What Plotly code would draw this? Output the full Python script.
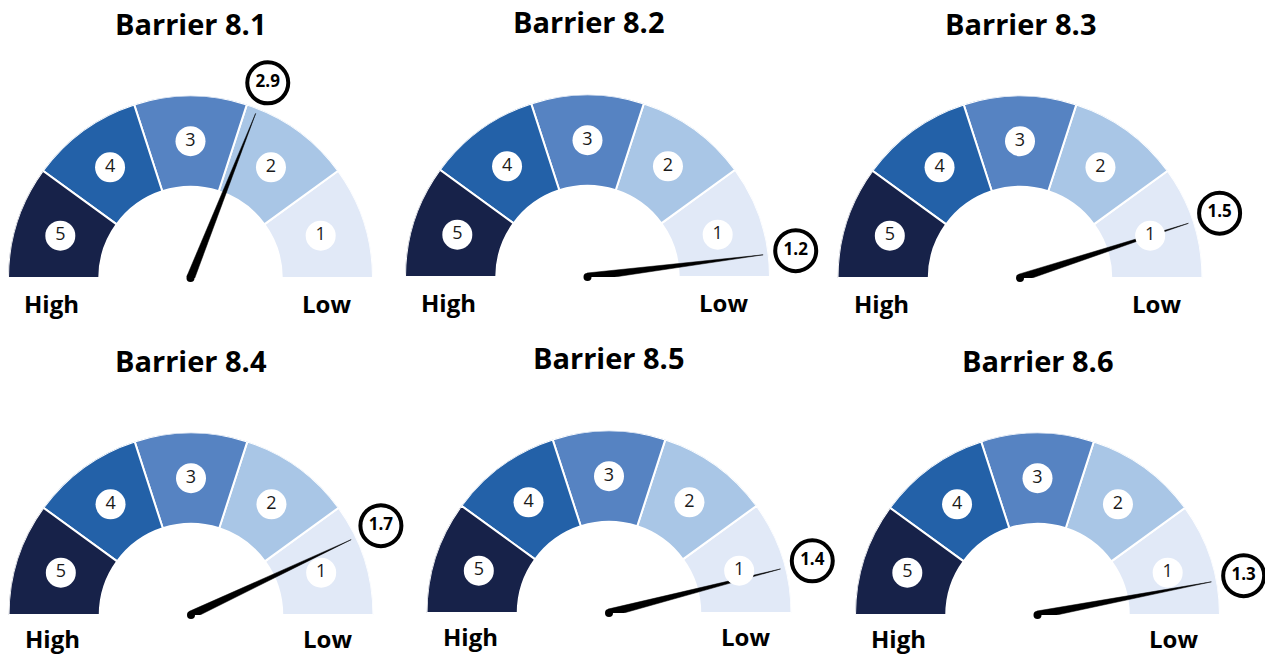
import plotly.graph_objects as go

barriers = ["Barrier 8.1", "Barrier 8.2", "Barrier 8.3", "Barrier 8.4", "Barrier 8.5", "Barrier 8.6"]
scores = [2.9, 1.2, 1.5, 1.7, 1.4, 1.3]
levels = [1, 2, 3, 4, 5]
level_colors = ["#e1e9f7", "#a9c6e6", "#5683c2", "#2361a8", "#172249"]
side_labels = ["High", "Low"]

W, H = 1265, 655
R = 182.5  # dial radius in px
# dial centre (px from left, px from top) per panel
centres = [(190.5, 278), (587.5, 277), (1020, 278), (191, 615), (609, 613), (1037.5, 615)]
title_pos = [(190, 23), (588, 22), (1020, 23), (191, 360), (608, 357), (1037, 360)]
side_dy = [25, 25, 25, 23, 23, 23]

LO, HI = 1, 6  # dial runs from 1 (right end) to 6 (left end)
LABEL_R = 1.24  # radial extent of the quarter polar that carries the score badge
FONT = "Open Sans"


def deg(v):
    return (v - LO) / (HI - LO) * 180


fig = go.Figure()
annotations = []
polars = {}

for i, (name, score) in enumerate(zip(barriers, scores)):
    sp = "polar" if i == 0 else f"polar{2 * i + 1}"
    sp_lab = f"polar{2 * i + 2}"
    cx, cy = centres[i]

    fig.add_trace(go.Barpolar(
        r=[0.5] * len(levels), base=0.5,
        theta=[deg(l + 0.5) for l in levels],
        width=[180 / (HI - LO)] * len(levels),
        marker=dict(color=level_colors, line=dict(color="white", width=2)),
        subplot=sp, hoverinfo="skip", showlegend=False))

    a = deg(score)
    # needle: thin wedge + round hub
    fig.add_trace(go.Scatterpolar(
        r=[0.022, 0.97, 0.022], theta=[a + 90, a, a - 90],
        mode="lines", fill="toself", fillcolor="black",
        line=dict(color="black", width=0.5),
        subplot=sp, hoverinfo="skip", showlegend=False))
    fig.add_trace(go.Scatterpolar(
        r=[0], theta=[a], mode="markers",
        marker=dict(size=8, color="black"),
        subplot=sp, hoverinfo="skip", showlegend=False))

    fig.add_trace(go.Scatterpolar(
        r=[0.75] * len(levels), theta=[deg(l + 0.5) for l in levels],
        mode="markers+text", text=[str(l) for l in levels],
        textposition="middle center",
        textfont=dict(family=FONT, size=18, color="#1a1a1a"),
        marker=dict(size=30, color="white"),
        subplot=sp, hoverinfo="skip", showlegend=False))

    # score badge lives in a quarter polar with the same centre and scale
    fig.add_trace(go.Scatterpolar(
        r=[1.15], theta=[a], mode="markers+text", text=[f"{score}"],
        textposition="middle center", cliponaxis=False,
        textfont=dict(family=FONT, size=17, color="black", weight="bold"),
        marker=dict(size=41, color="white", line=dict(color="black", width=4)),
        subplot=sp_lab, hoverinfo="skip", showlegend=False))

    polars[sp] = dict(
        domain=dict(x=[(cx - R) / W, (cx + R) / W],
                    y=[(H - cy) / H, (H - cy + R) / H]),
        sector=[0, 180], hole=0, bgcolor="rgba(0,0,0,0)",
        radialaxis=dict(range=[0, 1], visible=False),
        angularaxis=dict(visible=False, rotation=0, direction="counterclockwise"))
    polars[sp_lab] = dict(
        domain=dict(x=[cx / W, min(1, (cx + LABEL_R * R) / W)],
                    y=[(H - cy) / H, (H - cy + LABEL_R * R) / H]),
        sector=[0, 90], hole=0, bgcolor="rgba(0,0,0,0)",
        radialaxis=dict(range=[0, LABEL_R], visible=False),
        angularaxis=dict(visible=False, rotation=0, direction="counterclockwise"))

    tx, ty = title_pos[i]
    annotations.append(dict(
        x=tx / W, y=1 - ty / H, xref="paper", yref="paper", text=name,
        showarrow=False, xanchor="center", yanchor="middle",
        font=dict(family=FONT, size=29, color="black", weight="bold")))
    for lab, dx in zip(side_labels, [-139, 136]):
        annotations.append(dict(
            x=(cx + dx) / W, y=1 - (cy + side_dy[i]) / H, xref="paper", yref="paper",
            text=lab, showarrow=False, xanchor="center", yanchor="middle",
            font=dict(family=FONT, size=24, color="black", weight="bold")))

fig.update_layout(
    width=W, height=H, margin=dict(l=0, r=0, t=0, b=0),
    paper_bgcolor="white", plot_bgcolor="white",
    annotations=annotations, showlegend=False, **polars)

fig.write_html("out.html", config={"displayModeBar": False},
               post_script="document.body.style.margin='0px';")
